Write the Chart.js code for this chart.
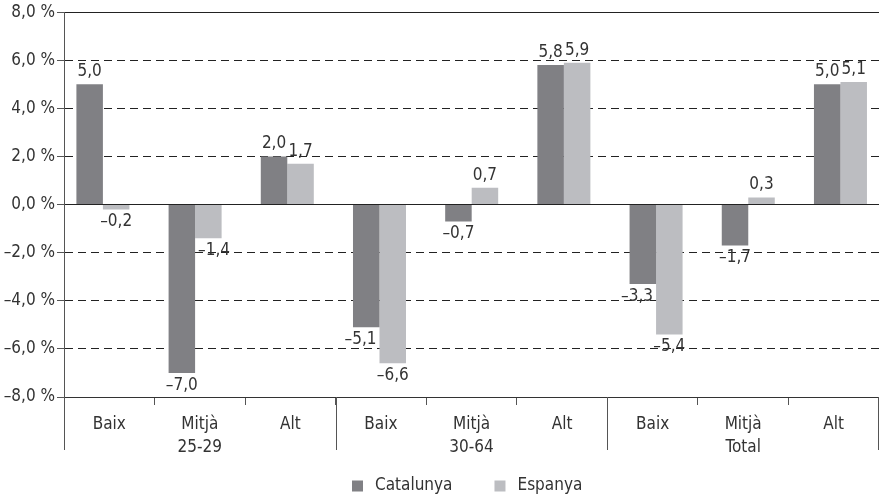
<!DOCTYPE html>
<html>
<head>
<meta charset="utf-8">
<script src="https://cdn.jsdelivr.net/npm/chart.js@4"></script>
<style>
  html,body{margin:0;padding:0;background:#fff;}
  #wrap{width:879px;height:499px;position:relative;}
</style>
</head>
<body>
<div id="wrap"><canvas id="c"></canvas></div>
<script>
const categories = ["Baix", "Mitjà", "Alt", "Baix", "Mitjà", "Alt", "Baix", "Mitjà", "Alt"];
const groups = ["", "25-29", "", "", "30-64", "", "", "Total", ""];
const catalunya = [5.0, -7.0, 2.0, -5.1, -0.7, 5.8, -3.3, -1.7, 5.0];
const espanya = [-0.2, -1.4, 1.7, -6.6, 0.7, 5.9, -5.4, 0.3, 5.1];
const seriesNames = ["Catalunya", "Espanya"];
const yMin = -8, yMax = 8, yStep = 2;
const groupBoundaries = [0, 3, 6, 9];

const FONT = "'Liberation Sans Narrow', 'DejaVu Sans Condensed', 'Roboto', sans-serif";
const TXT = '#333333';
const FS = 17;

function fmt(v, dec) {
  let s = Math.abs(v).toFixed(dec).replace('.', ',');
  return (v < -1e-9 ? '\u2013' : '') + s;
}

const labels = categories.map((c, i) => groups[i] ? [c, groups[i]] : c);
const series = [catalunya, espanya];

const dataLabelPlugin = {
  id: 'dataLabels',
  afterDatasetsDraw(chart) {
    const ctx = chart.ctx;
    ctx.save();
    ctx.font = FS + 'px ' + FONT;
    ctx.fillStyle = TXT;
    ctx.textAlign = 'center';
    const metas = chart.data.datasets.map((d, di) => chart.getDatasetMeta(di));
    chart.data.datasets.forEach((ds, di) => {
      metas[di].data.forEach((bar, i) => {
        const v = series[di][i];
        const txt = fmt(v, 1);
        const tw = ctx.measureText(txt).width;
        const other = metas[1 - di].data[i];
        const ov = series[1 - di][i];
        let x = bar.x;
        const sameSideFurther = (v < 0 && ov < v) || (v >= 0 && ov > v);
        if (sameSideFurther && tw > bar.width - 2) {
          if (other.x > bar.x) x = bar.x + bar.width / 2 - tw / 2 - 3;
          else x = bar.x - bar.width / 2 + tw / 2 + 3;
        }
        if (v >= 0) {
          ctx.textBaseline = 'bottom';
          ctx.fillText(txt, x, bar.y - 4);
        } else {
          ctx.textBaseline = 'top';
          ctx.fillText(txt, x, bar.y + 4);
        }
      });
    });
    ctx.restore();
  }
};

const groupLinesPlugin = {
  id: 'groupLines',
  afterDraw(chart) {
    const x = chart.scales.x;
    const ctx = chart.ctx;
    const top = chart.chartArea.bottom;
    const step = x.getPixelForValue(1) - x.getPixelForValue(0);
    ctx.save();
    ctx.strokeStyle = '#555555';
    ctx.lineWidth = 1;
    groupBoundaries.forEach(b => {
      let px = x.getPixelForValue(0) + (b - 0.5) * step;
      if (b === categories.length) px = Math.min(px, x.right - 1);
      px = Math.round(px) + 0.5;
      ctx.beginPath();
      ctx.moveTo(px, top);
      ctx.lineTo(px, top + 53);
      ctx.stroke();
    });
    ctx.restore();
  }
};

const customLegendPlugin = {
  id: 'customLegend',
  afterDraw(chart) {
    const ctx = chart.ctx;
    ctx.save();
    ctx.font = FS + 'px ' + FONT;
    ctx.textBaseline = 'middle';
    ctx.textAlign = 'left';
    const box = 11, gapBoxText = 12, gapItems = 42;
    const items = chart.data.datasets.map(ds => ({ text: ds.label, color: ds.backgroundColor, w: ctx.measureText(ds.label).width }));
    let total = 0;
    items.forEach((it, i) => { total += box + gapBoxText + it.w + (i < items.length - 1 ? gapItems : 0); });
    const cy = 486;
    let xpos = Math.round(467 - total / 2);
    items.forEach(it => {
      ctx.fillStyle = it.color;
      ctx.fillRect(xpos, cy - box / 2, box, box);
      ctx.fillStyle = TXT;
      ctx.fillText(it.text, xpos + box + gapBoxText, cy);
      xpos += box + gapBoxText + it.w + gapItems;
    });
    ctx.restore();
  }
};

const toPoints = arr => arr.map((v, i) => ({ x: i, y: v }));

new Chart(document.getElementById('c'), {
  type: 'bar',
  data: {
    labels: labels,
    datasets: [
      { label: seriesNames[0], data: toPoints(catalunya), xAxisID: 'xb', backgroundColor: '#808084', categoryPercentage: 0.575, barPercentage: 1.0 },
      { label: seriesNames[1], data: toPoints(espanya), xAxisID: 'xb', backgroundColor: '#bcbdc1', categoryPercentage: 0.575, barPercentage: 1.0 }
    ]
  },
  options: {
    responsive: true,
    maintainAspectRatio: false,
    animation: false,
    devicePixelRatio: 1,
    layout: { padding: { top: 4, right: 0, left: 0, bottom: 42 } },
    plugins: {
      legend: { display: false },
      tooltip: { enabled: false }
    },
    scales: {
      y: {
        min: yMin, max: yMax,
        afterFit(s) { s.width = 64; },
        ticks: {
          stepSize: yStep,
          color: TXT,
          font: { family: FONT, size: FS },
          padding: 2,
          callback: v => fmt(v, 1) + ' %'
        },
        grid: {
          color: '#222222',
          lineWidth: 1,
          tickLength: 7,
          tickColor: '#555555'
        },
        border: {
          display: true,
          color: '#555555',
          dash: ctx => (ctx.tick && (ctx.tick.value === 0 || ctx.tick.value === yMax || ctx.tick.value === yMin)) ? [] : [8, 5]
        }
      },
      xb: {
        type: 'linear',
        axis: 'x',
        position: 'bottom',
        display: false,
        offset: false,
        min: -0.422,
        max: 8.418,
        afterBuildTicks(s) { s.ticks = categories.map((c, i) => ({ value: i })); }
      },
      x: {
        type: 'category',
        position: 'bottom',
        afterFit(s) { s.height = 60; },
        ticks: {
          color: TXT,
          font: { family: FONT, size: FS, lineHeight: 1.3 },
          padding: 9,
          maxRotation: 0,
          autoSkip: false
        },
        grid: {
          drawOnChartArea: false,
          tickLength: 8,
          color: '#555555',
          offset: true
        },
        offset: true,
        border: { display: true, color: '#333333' }
      }
    }
  },
  plugins: [dataLabelPlugin, groupLinesPlugin, customLegendPlugin]
});
</script>
</body>
</html>
